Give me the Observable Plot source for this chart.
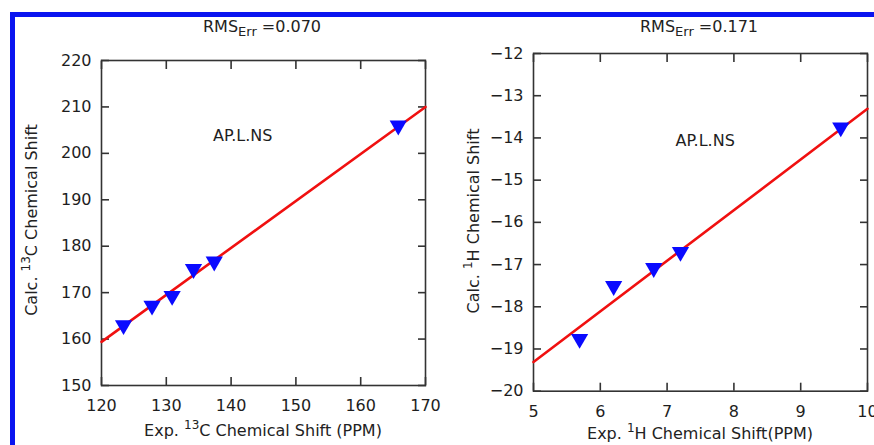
<!DOCTYPE html>
<html>
<head>
<meta charset="utf-8">
<script src="https://cdn.jsdelivr.net/npm/d3@7"></script>
<script src="https://cdn.jsdelivr.net/npm/@observablehq/plot@0.6"></script>
<style>
  html, body { margin: 0; padding: 0; background: #fff; }
  #wrap { position: relative; width: 874px; height: 445px; overflow: hidden; font-family: "DejaVu Sans", sans-serif; color: #222; }
  .panel { position: absolute; top: 0; }
  .lbl { position: absolute; font-size: 16px; line-height: 18px; white-space: nowrap; transform: translate(-50%, -50%); }
  .ylbl { position: absolute; font-size: 16px; white-space: nowrap; transform: translate(-50%, -50%) rotate(-90deg); }
  sub { font-size: 13px; vertical-align: -4px; line-height: 0; }
  sup { font-size: 12px; vertical-align: 7px; line-height: 0; }
  #border { position: absolute; left: 10px; top: 12px; width: 880px; height: 460px; border-top: 5px solid #0a14f0; border-left: 5px solid #0a14f0; }
</style>
</head>
<body>
<div id="wrap"></div>
<script>
// ---- Data: 13C panel ----
const cExp   = [123.4, 127.8, 130.9, 134.2, 137.4, 165.8];
const cCalc  = [163.0, 167.2, 169.3, 175.1, 176.7, 206.0];
const cFitX  = [120, 170];
const cFitY  = [159.4, 210.0];
const cXTicks = [120, 130, 140, 150, 160, 170];
const cYTicks = [150, 160, 170, 180, 190, 200, 210, 220];
const cNote  = {x: 141.8, y: 203.8};

// ---- Data: 1H panel ----
const hExp   = [5.69, 6.20, 6.80, 7.20, 9.60];
const hCalc  = [-18.76, -17.51, -17.08, -16.70, -13.75];
const hFitX  = [5, 10];
const hFitY  = [-19.31, -13.31];
const hXTicks = [5, 6, 7, 8, 9, 10];
const hYTicks = [-20, -19, -18, -17, -16, -15, -14, -13, -12];
const hNote  = {x: 7.57, y: -14.06};

const noteText = "AP.L.NS";

function panel(cfg) {
  const ink = "#333";
  return Plot.plot({
    width: cfg.width, height: 445,
    marginLeft: cfg.ml, marginRight: cfg.mr, marginTop: cfg.mt, marginBottom: cfg.mb,
    style: {fontFamily: "DejaVu Sans, sans-serif", fontSize: "16px", color: "#1e1e1e", background: "transparent", overflow: "visible"},
    x: {domain: cfg.xd, ticks: cfg.xt},
    y: {domain: cfg.yd, ticks: cfg.yt},
    marks: [
      Plot.frame({stroke: ink, strokeWidth: 1.6}),
      // labels
      Plot.axisX(cfg.xt, {anchor: "bottom", tickSize: 0, tickPadding: 14, label: null, fontSize: 16}),
      Plot.axisY(cfg.yt, {anchor: "left", tickSize: 0, tickPadding: 10, label: null, fontSize: 16}),
      // inward ticks (mirrored on all sides)
      Plot.axisX(cfg.xt, {anchor: "bottom", tickSize: 8, dy: -8, text: null, label: null, stroke: ink, strokeWidth: 1.6}),
      Plot.axisX(cfg.xt, {anchor: "top", tickSize: 8, dy: 8, text: null, label: null, stroke: ink, strokeWidth: 1.6}),
      Plot.axisY(cfg.yt, {anchor: "left", tickSize: 8, dx: 8, text: null, label: null, stroke: ink, strokeWidth: 1.6}),
      Plot.axisY(cfg.yt, {anchor: "right", tickSize: 8, dx: -8, text: null, label: null, stroke: ink, strokeWidth: 1.6}),
      Plot.line(cfg.fx, {x: cfg.fx, y: cfg.fy, stroke: "#f01010", strokeWidth: 2.6}),
      Plot.dot(cfg.px, {x: cfg.px, y: cfg.py, symbol: "triangle", rotate: 180, r: 6.4, fill: "#0a0aff", stroke: "none"}),
      Plot.text([noteText], {x: [cfg.note.x], y: [cfg.note.y], text: d => d, fontSize: 16, fill: "#1e1e1e"})
    ]
  });
}

const wrap = document.getElementById("wrap");

const left = panel({width: 437, ml: 101, mr: 12, mt: 60, mb: 60,
  xd: [120, 170], yd: [150, 220], xt: cXTicks, yt: cYTicks,
  fx: cFitX, fy: cFitY, px: cExp, py: cCalc, note: cNote});
left.classList.add("panel"); left.style.left = "0px";
wrap.appendChild(left);

const right = panel({width: 437, ml: 96, mr: 7, mt: 53, mb: 54.3,
  xd: [5, 10], yd: [-20, -12], xt: hXTicks, yt: hYTicks,
  fx: hFitX, fy: hFitY, px: hExp, py: hCalc, note: hNote});
right.classList.add("panel"); right.style.left = "437px";
wrap.appendChild(right);

function addLabel(html, x, y, cls) {
  const d = document.createElement("div");
  d.className = cls;
  d.style.left = x + "px"; d.style.top = y + "px";
  d.innerHTML = html;
  wrap.appendChild(d);
}
addLabel("RMS<sub>Err</sub> =0.070", 262, 27, "lbl");
addLabel("RMS<sub>Err</sub> =0.171", 699, 27, "lbl");
addLabel("Exp. <sup>13</sup>C Chemical Shift (PPM)", 263, 431, "lbl");
addLabel("Exp. <sup>1</sup>H Chemical Shift(PPM)", 700, 434, "lbl");
addLabel("Calc. <sup>13</sup>C Chemical Shift", 31, 220, "ylbl");
addLabel("Calc. <sup>1</sup>H Chemical Shift", 473, 221, "ylbl");

const b = document.createElement("div");
b.id = "border";
wrap.appendChild(b);
</script>
</body>
</html>
